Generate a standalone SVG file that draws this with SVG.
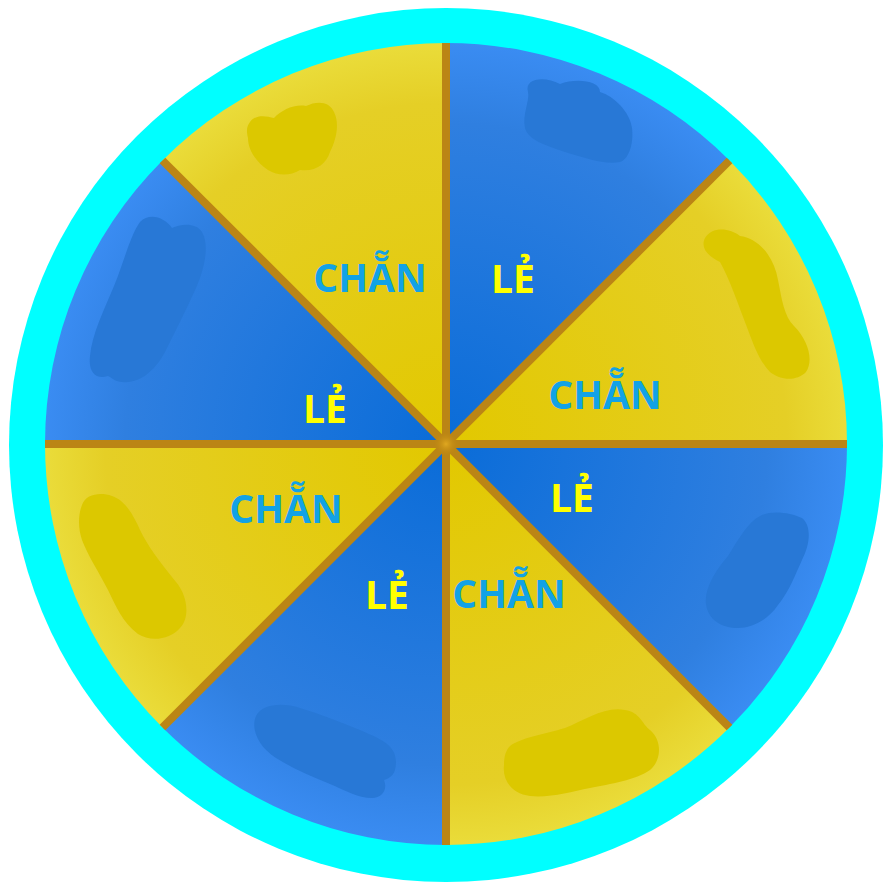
<svg xmlns="http://www.w3.org/2000/svg" width="892" height="892" viewBox="0 0 892 892">
<defs>
<radialGradient id="gy" gradientUnits="userSpaceOnUse" cx="446" cy="444" r="401">
<stop offset="0" stop-color="#e2c800"/>
<stop offset="0.85" stop-color="#e5cf26"/>
<stop offset="1" stop-color="#eadc3a"/>
</radialGradient>
<radialGradient id="gb" gradientUnits="userSpaceOnUse" cx="446" cy="444" r="401">
<stop offset="0" stop-color="#0a6cd8"/>
<stop offset="0.8" stop-color="#2f7fe0"/>
<stop offset="1" stop-color="#3a8cf2"/>
</radialGradient>
<radialGradient id="hub" cx="0.5" cy="0.5" r="0.5">
<stop offset="0" stop-color="#e0a820"/>
<stop offset="1" stop-color="#c08a10" stop-opacity="0"/>
</radialGradient>
<style>
.y{fill:url(#gy)}
.b{fill:url(#gb)}
.yb{fill:#dcc800}
.bb{fill:#2878d6}
.sp{stroke:#bb8515;stroke-width:8;fill:none}
.t{font-family:"Open Sans","Liberation Sans",sans-serif;font-weight:700;font-size:39px;text-anchor:middle}
.ch{fill:#12a2e6}
.le{fill:#ffff00}
</style>
</defs>
<circle cx="446" cy="445" r="437" fill="#00ffff"/>
<g id="s1"><path class="b" d="M446,444 L446,43 A401,401 0 0 1 729.5,160.5 Z"/>
<path class="bb" d="M528,92 C524,78 545,76 560,84 C575,78 600,80 600,92 C614,96 630,112 632,128 C634,145 628,160 620,162 C605,165 585,158 565,152 C545,145 528,140 525,128 C522,115 530,100 528,92 Z"/>
<text class="t le" x="513" y="293">LẺ</text></g>
<g id="s2"><path class="y" d="M446,444 L729.5,160.5 A401,401 0 0 1 847,444 Z"/>
<path class="yb" d="M705,238 C712,226 730,228 740,236 C758,238 774,256 778,280 C782,300 784,316 794,326 C808,340 814,360 806,372 C796,382 780,380 770,372 C760,362 754,346 748,330 C738,304 730,280 720,262 C708,256 700,248 705,238 Z"/>
<text class="t ch" x="605" y="409">CHẴN</text></g>
<g id="s3"><path class="b" d="M446,444 L847,444 A401,401 0 0 1 729.5,727.5 Z"/>
<path class="bb" d="M760,516 C770,510 790,512 802,518 C812,526 810,545 802,560 C795,575 790,590 778,605 C768,620 752,628 738,628 C722,628 708,620 706,604 C704,588 716,570 728,556 C738,540 748,522 760,516 Z"/>
<text class="t le" x="572" y="512">LẺ</text></g>
<g id="s4"><path class="y" d="M446,444 L729.5,727.5 A401,401 0 0 1 446,845 Z"/>
<path class="yb" d="M510,746 C520,738 545,734 565,728 C585,720 605,706 625,710 C640,712 642,724 650,730 C662,740 662,760 650,770 C636,780 610,784 590,788 C570,792 550,798 530,796 C512,794 502,780 504,765 C504,756 506,750 510,746 Z"/>
<text class="t ch" x="509" y="608">CHẴN</text></g>
<g id="s5"><path class="b" d="M446,444 L446,845 A401,401 0 0 1 162.5,727.5 Z"/>
<path class="bb" d="M256,716 C262,704 282,702 300,708 C320,714 340,722 360,730 C378,738 396,744 396,762 C396,775 390,778 384,780 C388,790 382,798 372,798 C358,798 344,790 330,784 C310,776 292,768 276,758 C260,748 250,730 256,716 Z"/>
<text class="t le" x="387" y="609">LẺ</text></g>
<g id="s6"><path class="y" d="M446,444 L162.5,727.5 A401,401 0 0 1 45,444 Z"/>
<path class="yb" d="M82,505 C86,494 100,492 112,496 C125,500 134,516 140,530 C148,546 158,560 176,582 C188,596 190,618 180,628 C170,640 150,642 138,634 C122,622 116,606 108,590 C100,574 88,556 82,540 C78,528 78,515 82,505 Z"/>
<text class="t ch" x="286" y="523">CHẴN</text></g>
<g id="s7"><path class="b" d="M446,444 L45,444 A401,401 0 0 1 162.5,160.5 Z"/>
<path class="bb" d="M140,222 C150,212 165,218 172,228 C180,224 196,222 202,232 C210,246 204,270 196,288 C186,310 176,330 166,350 C156,370 140,384 122,382 C116,382 112,378 108,376 C96,380 88,372 90,356 C92,334 104,310 114,286 C124,262 130,236 140,222 Z"/>
<text class="t le" x="325" y="423">LẺ</text></g>
<g id="s8"><path class="y" d="M446,444 L162.5,160.5 A401,401 0 0 1 446,43 Z"/>
<path class="yb" d="M250,122 C256,114 266,116 274,118 C282,110 294,104 306,106 C318,100 330,102 334,112 C340,124 336,140 330,152 C326,164 316,172 300,170 C290,176 278,176 268,170 C256,162 248,150 248,138 C246,130 247,126 250,122 Z"/>
<text class="t ch" x="370" y="292">CHẴN</text></g>
<g id="spokes">
<line class="sp" x1="446" y1="43" x2="446" y2="845"/>
<line class="sp" x1="45" y1="444" x2="847" y2="444"/>
<line class="sp" x1="162.5" y1="160.5" x2="729.5" y2="727.5"/>
<line class="sp" x1="729.5" y1="160.5" x2="162.5" y2="727.5"/>
<circle cx="446" cy="444" r="12" fill="url(#hub)"/>
</g>
</svg>
